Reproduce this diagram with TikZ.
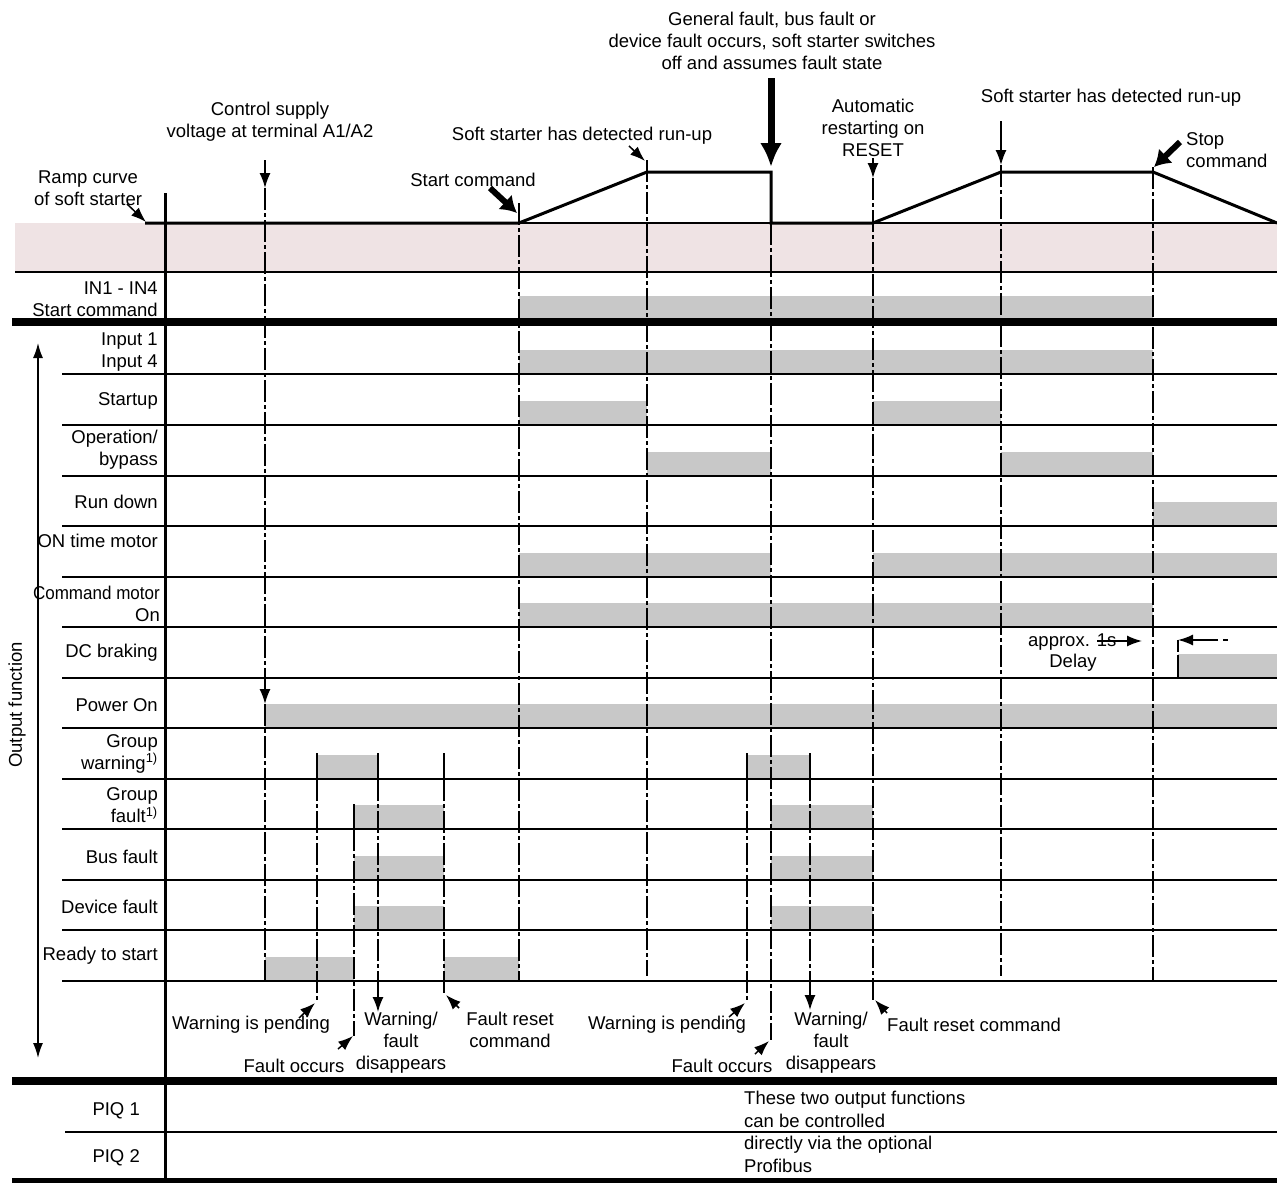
\documentclass[tikz,border=0pt]{standalone}
\usepackage{fontspec}
\setmainfont{Liberation Sans}
\usetikzlibrary{arrows.meta}
\definecolor{barg}{RGB}{200,200,200}
\definecolor{pinkb}{RGB}{239,227,228}
\begin{document}
\begin{tikzpicture}[x=1pt,y=-1pt,
  lbl/.style={font=\fontsize{18.5}{22}\selectfont, inner sep=0pt, align=center},
  rlbl/.style={lbl, anchor=east, align=right},
  llbl/.style={lbl, anchor=west, align=left},
  rowline/.style={line width=1.8pt},
  thickline/.style={line width=8pt},
  bar/.style={fill=barg, draw=none},
  vdash/.style={line width=1.8pt, dash pattern=on 22pt off 3pt on 4pt off 3pt},
  vsolid/.style={line width=1.8pt},
  sarr/.style={-{Latex[length=15pt,width=11pt]}, line width=1.5pt},
  barr/.style={-{Latex[length=16pt,width=20pt]}, line width=6pt},
  harr/.style={-{Latex[length=24pt,width=22pt]}, line width=7pt},
]
\useasboundingbox (0,0) rectangle (1277,1183);
\fill[white] (0,0) rectangle (1277,1183);
% pink band
\fill[pinkb] (15,223) rectangle (1277,272);
% bars
\foreach \a/\b/\y in {519/1153/320, 519/1153/374, 519/647/425, 873/1001/425,
  647/771/476, 1001/1153/476, 1153/1277/526, 519/771/577, 873/1277/577,
  519/1153/627, 1178/1277/678, 265/1277/728, 317/378/779, 747/810/779,
  354/444/829, 771/873/829, 354/444/880, 771/873/880, 354/444/930, 771/873/930,
  265/354/981, 444/519/981}
  \fill[barg] (\a,\y-24) rectangle (\b,\y);
% horizontal lines
\draw[rowline] (519,223) -- (1277,223);
\draw[rowline] (15,272) -- (1277,272);
\draw[thickline] (12,322) -- (1277,322);
\foreach \y in {374,425,476,526,577,627,678,728,779,829,880,930,981}
  \draw[rowline] (62,\y) -- (1277,\y);
\draw[thickline] (12,1081) -- (1277,1081);
\draw[rowline] (65,1132) -- (1277,1132);
\fill (12,1178) rectangle (1277,1183);
% main axis
\draw[line width=3pt] (165,193) -- (165,1183);
% ramp curve
\draw[line width=3pt, line join=miter] (145,223) -- (519,223) -- (647,172) -- (771,172)
  -- (771,223) -- (873,223) -- (1001,172) -- (1153,172) -- (1277,223);
% main verticals
\coordinate (cs0) at (265,160); \coordinate (cs1) at (265,188);
\draw[sarr] (cs0) -- (cs1);
\draw[vdash] (cs1) -- (265,683);
\coordinate (po) at (265,704);
\draw[sarr] (265,683) -- (po);
\draw[vdash] (po) -- (265,980);
\draw[vdash] (519,203) -- (519,980);
\draw[vdash] (647,160) -- (647,976);
\draw[vdash] (771,223) -- (771,1040);
\coordinate (ar0) at (873,158); \coordinate (ar1) at (873,178);
\draw[sarr] (ar0) -- (ar1);
\draw[vdash] (ar1) -- (873,1000);
\coordinate (ru0) at (1001,121); \coordinate (ru1) at (1001,165);
\draw[sarr] (ru0) -- (ru1);
\draw[vdash] (ru1) -- (1001,976);
\draw[vdash] (1153,167) -- (1153,980);
% fault group 1 markers
\draw[vsolid] (317,753) -- (317,779); \draw[vdash] (317,779) -- (317,1000);
\draw[vsolid] (354,804) -- (354,829); \draw[vdash] (354,829) -- (354,1036);
\draw[vsolid] (378,753) -- (378,779); \draw[vdash] (378,779) -- (378,988);
\draw[sarr] (378,985) -- (378,1012);
\draw[vsolid] (444,753) -- (444,779); \draw[vdash] (444,779) -- (444,995);
% fault group 2 markers
\draw[vsolid] (747,753) -- (747,779); \draw[vdash] (747,779) -- (747,1001);
\draw[vsolid] (810,753) -- (810,779); \draw[vdash] (810,779) -- (810,988);
\draw[sarr] (810,985) -- (810,1010);
% DC braking delay
\node[lbl, anchor=west] (apx) at (1028,642) {approx. 1s};
\node[lbl] (dly) at (1073,663) {Delay};
\draw[sarr] (1097,641) -- (1142,641);
\coordinate (db) at (1178,640);
\draw[sarr] (1218,640) -- (db);
\draw[line width=1.5pt] (1223,640) -- (1228,640);
\draw[line width=1.8pt, dash pattern=on 12pt off 3pt on 30pt] (db) -- (1178,678);
% annotation arrows top
\draw[sarr] (127,204) -- (146,222);
\draw[barr] (490,188) -- (517,213);
\draw[sarr] (629,146) -- (645,161);
\draw[harr] (771,78) -- (771,167);
\draw[barr] (1180,142) -- (1154,167);
% annotation arrows bottom
\draw[sarr] (299,1018) -- (315,1003);
\draw[sarr] (338,1049) -- (353,1036);
\draw[sarr] (459,1008) -- (446,995);
\draw[sarr] (729,1017) -- (745,1003);
\draw[sarr] (755,1054) -- (769,1041);
\draw[sarr] (887,1013) -- (875,1000);
% output function axis
\draw[{Latex[length=15pt,width=10pt]}-{Latex[length=15pt,width=10pt]}, line width=1.5pt] (38,343) -- (38,1058);
\node[lbl, rotate=90] (of) at (17,705) {Output function};
% top texts
\node[lbl] (t1) at (88,188) {Ramp curve\\of soft starter};
\node[lbl] (t2) at (270,122) {Control supply\\voltage at terminal A1/A2};
\node[lbl] (t3) at (473,180) {Start command};
\node[lbl] (t4) at (582,136) {Soft starter has detected run-up};
\node[lbl] (t5) at (772,41) {General fault, bus fault or\\device fault occurs, soft starter switches\\off and assumes fault state};
\node[lbl] (t6) at (873,128) {Automatic\\restarting on\\RESET};
\node[lbl] (t7) at (1111,98) {Soft starter has detected run-up};
\node[llbl] (t8) at (1186,150) {Stop\\command};
% row labels
\node[rlbl] (r0) at (158,299) {IN1 - IN4\\Start command};
\node[rlbl] (r1) at (158,352) {Input 1\\Input 4};
\node[rlbl] (r2) at (158,401) {Startup};
\node[rlbl] (r3) at (158,449.5) {Operation/\\bypass};
\node[rlbl] (r4) at (158,502) {Run down};
\node[rlbl] (r5) at (158,541) {ON time motor};
\node[rlbl] (r6) at (160,603.5) {\scalebox{0.92}[1]{Command motor}\\On};
\node[rlbl] (r7) at (158,653) {DC braking};
\node[rlbl] (r8) at (158,705) {Power On};
\node[rlbl] (r9) at (158,753.5) {Group\\warning\textsuperscript{1)}};
\node[rlbl] (r10) at (158,805) {Group\\fault\textsuperscript{1)}};
\node[rlbl] (r11) at (158,857) {Bus fault};
\node[rlbl] (r12) at (158,907) {Device fault};
\node[rlbl] (r13) at (158,956) {Ready to start};
\node[rlbl] (r14) at (140,1111) {PIQ 1};
\node[rlbl] (r15) at (140,1158) {PIQ 2};
% bottom texts
\node[lbl] (b1) at (251,1025) {Warning is pending};
\node[lbl] (b2) at (294,1066) {Fault occurs};
\node[lbl] (b3) at (401,1043) {Warning/\\fault\\disappears};
\node[lbl] (b4) at (510,1029.5) {Fault reset\\command};
\node[lbl] (b5) at (667,1025) {Warning is pending};
\node[lbl] (b6) at (722,1066) {Fault occurs};
\node[lbl] (b7) at (831,1043) {Warning/\\fault\\disappears};
\node[lbl, anchor=west] (b8) at (887,1025) {Fault reset command};
\node[llbl, font=\fontsize{18.5}{22.7}\selectfont] (piq) at (744,1132) {These two output functions\\can be controlled\\directly via the optional\\Profibus};
\end{tikzpicture}
\end{document}
